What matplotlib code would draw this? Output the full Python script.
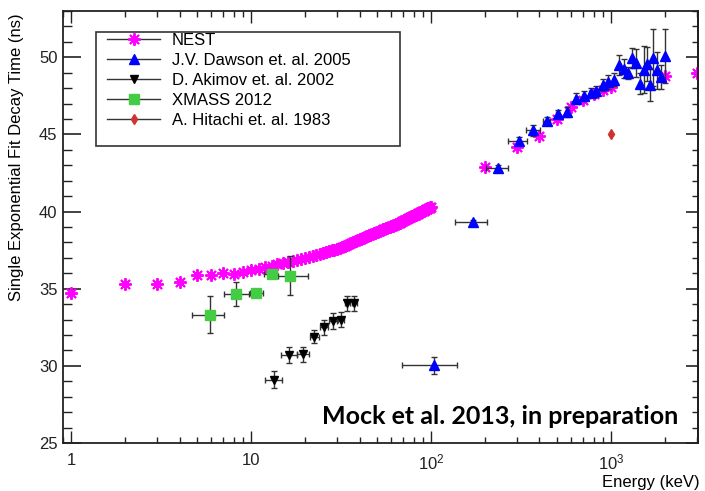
import matplotlib
matplotlib.use("Agg")
import matplotlib.pyplot as plt
from matplotlib.lines import Line2D
from matplotlib.patches import Rectangle
from matplotlib.ticker import FixedLocator, FixedFormatter, LogLocator, NullFormatter, MultipleLocator

plt.rcParams['font.family'] = ['Liberation Sans', 'DejaVu Sans']
plt.rcParams['mathtext.default'] = 'regular'

# NEST simulation (keV, ns)
nest_e = list(range(1, 101)) + [200, 300, 400, 500, 600, 700, 800, 900, 1000, 2000, 3000]
nest_t = [34.7, 35.3, 35.3, 35.45, 35.9, 35.9, 36.0, 35.95, 36.1, 36.2,
          36.3, 36.4, 36.5, 36.6, 36.67, 36.73, 36.8, 36.87, 36.93, 37.0,
          37.06, 37.12, 37.18, 37.24, 37.3, 37.36, 37.42, 37.48, 37.54, 37.6,
          37.66, 37.72, 37.78, 37.84, 37.9, 37.96, 38.02, 38.08, 38.14, 38.2,
          38.25, 38.3, 38.35, 38.4, 38.45, 38.5, 38.55, 38.6, 38.64, 38.68,
          38.72, 38.77, 38.81, 38.86, 38.9, 38.93, 38.96, 38.99, 39.02, 39.05,
          39.08, 39.11, 39.14, 39.17, 39.2, 39.24, 39.28, 39.32, 39.36, 39.4,
          39.44, 39.48, 39.52, 39.56, 39.6, 39.63, 39.66, 39.69, 39.72, 39.75,
          39.78, 39.81, 39.84, 39.87, 39.9, 39.93, 39.95, 39.98, 40.01, 40.04,
          40.06, 40.09, 40.12, 40.14, 40.17, 40.2, 40.22, 40.25, 40.27, 40.3,
          42.9, 44.2, 44.9, 46.0, 46.8, 47.2, 47.6, 47.9, 48.1, 48.8, 49.0]

# J.V. Dawson et al. 2005
dawson_e = [104, 170, 234, 306, 370, 438, 504, 570, 640, 708, 770, 829, 907, 966,
            1032, 1113, 1173, 1240, 1304, 1380, 1450, 1524, 1590, 1645, 1714, 1790, 1905, 1990]
dawson_t = [30.05, 39.3, 42.8, 44.58, 45.27, 45.85, 46.35, 46.46, 47.32, 47.49, 47.71, 47.8, 48.19, 48.4,
            48.55, 49.48, 49.27, 49.0, 49.95, 49.63, 48.29, 49.2, 49.59, 48.19, 49.98, 49.16, 48.72, 50.06]
dawson_terr = [0.55, 0.15, 0.2, 0.25, 0.35, 0.25, 0.25, 0.3, 0.35, 0.35, 0.3, 0.35, 0.4, 0.45,
               0.4, 0.65, 0.6, 0.4, 0.65, 0.9, 0.7, 1.5, 1.1, 1.05, 1.85, 1.2, 0.8, 1.75]
dawson_eerr = [35, 34, 33, 37, 35, 20, 12, 12, 12, 12, 12, 12, 12, 12,
               12, 12, 12, 12, 12, 12, 12, 12, 12, 12, 12, 12, 12, 12]

# D. Akimov et al. 2002
akimov_e = [13.4, 16.3, 19.4, 22.4, 25.5, 28.5, 31.6, 34.2, 37.3]
akimov_t = [29.1, 30.7, 30.75, 31.9, 32.5, 32.9, 33.0, 34.05, 34.05]
akimov_terr = [0.55, 0.5, 0.5, 0.45, 0.5, 0.5, 0.5, 0.5, 0.5]
akimov_eerr = [1.5, 1.6, 1.5, 1.3, 1.3, 1.3, 1.3, 1.2, 1.2]

# XMASS 2012
xmass_e = [5.9, 8.2, 10.6, 13.1, 16.5]
xmass_t = [33.3, 34.65, 34.75, 35.95, 35.85]
xmass_terr = [1.2, 0.8, 0.1, 0.1, 1.25]
xmass_elo = [1.2, 1.1, 0.7, 1.3, 2.4]
xmass_ehi = [1.2, 1.55, 1.1, 0.8, 4.2]

# A. Hitachi et al. 1983
hitachi_e = [1000]
hitachi_t = [45.0]

fig = plt.figure(figsize=(7.05, 4.91), dpi=100)
ax = fig.add_axes([63 / 705, 48 / 491, 635 / 705, 432 / 491])

nest_marker = (8, 2, 0)
ecol = '#333333'
ax.plot(nest_e, nest_t, ls='none', marker=nest_marker, ms=9, mew=1.4,
        mec='#ff00ff', mfc='#ff00ff', zorder=2)
ax.errorbar(dawson_e, dawson_t, yerr=dawson_terr, xerr=dawson_eerr, fmt='^',
            color='#0000ff', ms=7, ecolor=ecol, elinewidth=1, capsize=2, capthick=1, zorder=3)
ax.errorbar(akimov_e, akimov_t, yerr=akimov_terr, xerr=akimov_eerr, fmt='v',
            color='black', ms=6, ecolor=ecol, elinewidth=1, capsize=2, capthick=1, zorder=3)
ax.errorbar(xmass_e, xmass_t, yerr=xmass_terr, xerr=[xmass_elo, xmass_ehi], fmt='s',
            color='#44cc44', ms=7, ecolor=ecol, elinewidth=1, capsize=2, capthick=1, zorder=4)
ax.plot(hitachi_e, hitachi_t, ls='none', marker='d', ms=5, color='#cc3333', zorder=4)

ax.set_xscale('log')
ax.set_xlim(0.9, 3040)
ax.set_ylim(25, 53)

ax.xaxis.set_major_locator(FixedLocator([1, 10, 100, 1000]))
ax.xaxis.set_major_formatter(FixedFormatter(['1', '10', '$10^{2}$', '$10^{3}$']))
ax.xaxis.set_minor_locator(LogLocator(base=10, subs=range(2, 10), numticks=20))
ax.xaxis.set_minor_formatter(NullFormatter())
ax.yaxis.set_major_locator(MultipleLocator(5))
ax.yaxis.set_minor_locator(MultipleLocator(1))

ax.tick_params(which='both', direction='in', top=True, right=False, labelsize=12, colors='#222222')
ax.tick_params(axis='x', which='major', length=8.6, width=1, pad=7)
ax.tick_params(axis='x', which='minor', length=4.3, width=1)
ax.tick_params(axis='y', which='major', length=13, width=1.2, pad=4)
ax.tick_params(axis='y', which='minor', length=6.5, width=1)

sec = ax.secondary_yaxis('right')
sec.yaxis.set_major_locator(MultipleLocator(5))
sec.yaxis.set_minor_locator(MultipleLocator(1))
sec.tick_params(which='both', direction='in', labelright=False, colors='#222222')
sec.tick_params(which='major', length=8.6, width=1.2)
sec.tick_params(which='minor', length=4.3, width=1)

for s in ax.spines.values():
    s.set_linewidth(1.3)
    s.set_color('#222222')
sec.spines['right'].set_linewidth(1.3)

fig.text(700 / 705, 1 - 482 / 491, 'Energy (keV)', ha='right', va='center', fontsize=12)
fig.text(17 / 705, 1 - 13 / 491, 'Single Exponential Fit Decay Time (ns)', rotation=90,
         ha='center', va='top', fontsize=12)

ax.text(0.9685, 0.044, 'Mock et al. 2013, in preparation', transform=ax.transAxes,
        ha='right', va='baseline', fontsize=18, fontweight='bold', family='Lato')

# legend box
fig.patches.append(Rectangle((96 / 705, 1 - 146 / 491), 304 / 705, 114 / 491,
                             transform=fig.transFigure, fill=True, facecolor='white',
                             edgecolor='#333333', lw=1.2, zorder=5))
handles = [
    Line2D([], [], color='#333333', lw=1, marker=nest_marker, ms=9, mew=1.4, mec='#ff00ff'),
    Line2D([], [], color='#333333', lw=1, marker='^', ms=7, mfc='#0000ff', mec='#0000ff'),
    Line2D([], [], color='#333333', lw=1, marker='v', ms=6, mfc='black', mec='black'),
    Line2D([], [], color='#333333', lw=1, marker='s', ms=7, mfc='#44cc44', mec='#44cc44'),
    Line2D([], [], color='#333333', lw=1, marker='d', ms=5, mfc='#cc3333', mec='#cc3333'),
]
labels = ['NEST', 'J.V. Dawson et. al. 2005', 'D. Akimov et. al. 2002', 'XMASS 2012',
          'A. Hitachi et. al. 1983']
leg = fig.legend(handles, labels, loc='upper left', bbox_to_anchor=(107 / 705, 1 - 33 / 491),
                 frameon=False, fontsize=12, borderpad=0, borderaxespad=0,
                 handlelength=3.2, handletextpad=0.7, labelspacing=0.3)
leg.set_zorder(6)

fig.savefig('out.png', dpi=100)
